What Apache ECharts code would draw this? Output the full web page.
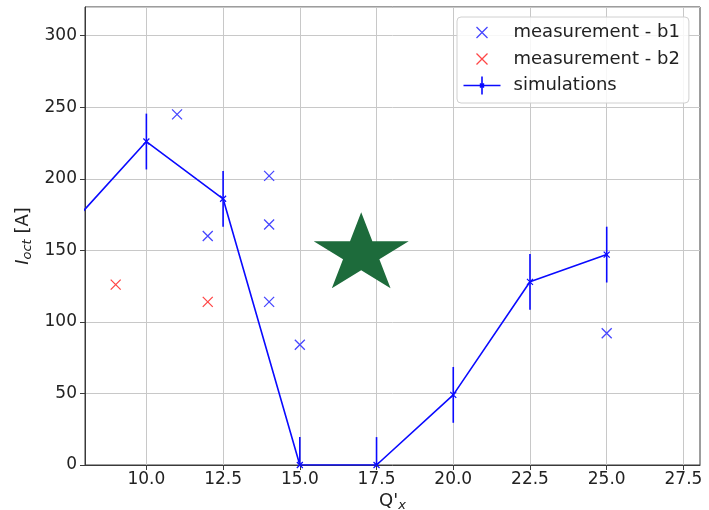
<!DOCTYPE html>
<html>
<head>
<meta charset="utf-8">
<script src="https://cdn.jsdelivr.net/npm/echarts@6/dist/echarts.min.js"></script>
<style>
  html, body { margin: 0; padding: 0; background: #fff; }
  #chart { width: 709px; height: 510px; }
</style>
</head>
<body>
<div id="chart"></div>
<script>
// Octupole current vs chromaticity Q'x
const xTicks = [10.0, 12.5, 15.0, 17.5, 20.0, 22.5, 25.0, 27.5];

// measurement - b1
const b1Qx = [11, 12, 14, 14, 14, 15, 25];
const b1I  = [245, 160, 202, 168, 114, 84, 92];

// measurement - b2
const b2Qx = [9, 12];
const b2I  = [126, 114];

// simulations with symmetric uncertainty
const simQx  = [7.5, 10, 12.5, 15, 17.5, 20, 22.5, 25];
const simI   = [167, 226, 186, 0, 0, 49, 128, 147];
const simErr = [19.5, 19.5, 19.5, 19.5, 19.5, 19.5, 19.5, 19.5];

// highlighted point
const starQx = [17];
const starI  = [150];

const BLUE = '#0a0aff';
const BLUE_X = '#4646ff';
const RED_X = '#ff4646';
const FONT = 'DejaVu Sans';

const crossPath = 'path://M0 0 L10 10 M10 0 L0 10';
const starPath = 'path://M50 0 L61.2 34.5 L97.6 34.5 L68.2 55.9 L79.4 90.5 L50 69.1 L20.6 90.5 L31.8 55.9 L2.4 34.5 L38.8 34.5 Z';
// legend icons (outer moves fix the icon box so the glyph sits left of centre)
const legendCross = 'path://M0 0 M45 18 M13 3.5 L24 14.5 M24 3.5 L13 14.5';
const legendSim = 'path://M0 0 M45 18 M0 9 L37 9 M18.5 0 L18.5 18 M16.5 7 L20.5 11 M20.5 7 L16.5 11';

const zip = (xs, ys) => xs.map((x, i) => [x, ys[i]]);

const chart = echarts.init(document.getElementById('chart'), null, { renderer: 'canvas' });

chart.setOption({
  animation: false,
  backgroundColor: '#ffffff',
  textStyle: { fontFamily: FONT },
  grid: {
    left: 85, right: 9, top: 7, bottom: 45,
    outerBoundsMode: 'none',
    containLabel: false,
    show: true, borderColor: '#3a3a3a', borderWidth: 1, backgroundColor: 'transparent'
  },
  legend: {
    orient: 'vertical',
    left: 457, top: 17,
    padding: [4, 9, 6, 4],
    itemWidth: 45, itemHeight: 18, itemGap: 3.5,
    symbolKeepAspect: true,
    backgroundColor: 'rgba(255,255,255,0.85)',
    borderColor: '#d0d0d0', borderWidth: 1, borderRadius: 4,
    textStyle: { fontFamily: FONT, fontSize: 18, color: '#222' },
    selectedMode: false,
    data: [
      { name: 'measurement - b1', icon: legendCross,
        itemStyle: { color: 'none', borderColor: BLUE_X, borderWidth: 1.3 } },
      { name: 'measurement - b2', icon: legendCross,
        itemStyle: { color: 'none', borderColor: RED_X, borderWidth: 1.3 } },
      { name: 'simulations', icon: legendSim,
        itemStyle: { color: 'none', borderColor: BLUE, borderWidth: 1.6 } }
    ]
  },
  xAxis: {
    type: 'value',
    min: 8, max: 28.04,
    name: "{n|Q'}{sub|x}",
    nameLocation: 'middle',
    nameGap: 25,
    nameMoveOverlap: false,
    nameTextStyle: {
      rich: {
        n: { fontFamily: FONT, fontSize: 18, color: '#222' },
        sub: { fontFamily: FONT, fontSize: 13, fontStyle: 'italic', color: '#222', padding: [9, 0, 0, 0] }
      }
    },
    axisLine: { show: true, onZero: false, lineStyle: { color: '#3a3a3a', width: 1 } },
    axisTick: { show: true, customValues: xTicks, length: 5, inside: false, lineStyle: { color: '#3a3a3a' } },
    axisLabel: {
      customValues: xTicks,
      formatter: v => v.toFixed(1),
      fontFamily: FONT, fontSize: 17, color: '#222', margin: 6
    },
    splitLine: { show: true, lineStyle: { color: '#c8c8c8', width: 1 } }
  },
  yAxis: {
    type: 'value',
    min: 0, max: 320, interval: 50,
    name: '{i|I}{sub|oct}{n| [A]}',
    nameLocation: 'middle',
    nameRotate: 90,
    nameGap: 51,
    nameMoveOverlap: false,
    nameTextStyle: {
      rich: {
        i: { fontFamily: FONT, fontSize: 18, fontStyle: 'italic', color: '#222' },
        sub: { fontFamily: FONT, fontSize: 13, fontStyle: 'italic', color: '#222', padding: [9, 0, 0, 0] },
        n: { fontFamily: FONT, fontSize: 18, color: '#222' }
      }
    },
    axisLine: { show: true, lineStyle: { color: '#3a3a3a', width: 1 } },
    axisTick: { show: true, length: 5, lineStyle: { color: '#3a3a3a' } },
    axisLabel: {
      fontFamily: FONT, fontSize: 17, color: '#222', margin: 8,
      showMaxLabel: false
    },
    splitLine: { show: true, lineStyle: { color: '#c8c8c8', width: 1 } }
  },
  series: [
    {
      name: 'simulations',
      type: 'line',
      data: zip(simQx, simI),
      clip: true,
      symbol: crossPath,
      symbolSize: 6,
      showSymbol: true,
      lineStyle: { color: BLUE, width: 1.6 },
      itemStyle: { color: 'none', borderColor: BLUE, borderWidth: 1.2 },
      z: 3
    },
    {
      name: 'simulations',
      type: 'custom',
      data: simQx.map((x, i) => [x, simI[i], simErr[i]]),
      renderItem: function (params, api) {
        const x = api.value(0), y = api.value(1), e = api.value(2);
        const top = api.coord([x, y + e]);
        const bot = api.coord([x, y - e]);
        const cs = params.coordSys;
        if (top[0] < cs.x - 0.5 || top[0] > cs.x + cs.width + 0.5) return null;
        const y1 = Math.max(top[1], cs.y);
        const y2 = Math.min(bot[1], cs.y + cs.height);
        return {
          type: 'line',
          shape: { x1: top[0], y1: y1, x2: bot[0], y2: y2 },
          style: { stroke: BLUE, lineWidth: 1.6 }
        };
      },
      z: 3
    },
    {
      name: 'measurement - b1',
      type: 'scatter',
      data: zip(b1Qx, b1I),
      symbol: crossPath,
      symbolSize: 10,
      itemStyle: { color: 'none', borderColor: BLUE_X, borderWidth: 1.3, opacity: 1 },
      z: 4
    },
    {
      name: 'measurement - b2',
      type: 'scatter',
      data: zip(b2Qx, b2I),
      symbol: crossPath,
      symbolSize: 10,
      itemStyle: { color: 'none', borderColor: RED_X, borderWidth: 1.3, opacity: 1 },
      z: 4
    },
    {
      name: 'star',
      type: 'scatter',
      data: zip(starQx, starI),
      symbol: starPath,
      symbolSize: [95, 76],
      symbolKeepAspect: false,
      itemStyle: { color: '#1d6b3b', opacity: 1 },
      z: 5
    }
  ]
});
</script>
</body>
</html>
